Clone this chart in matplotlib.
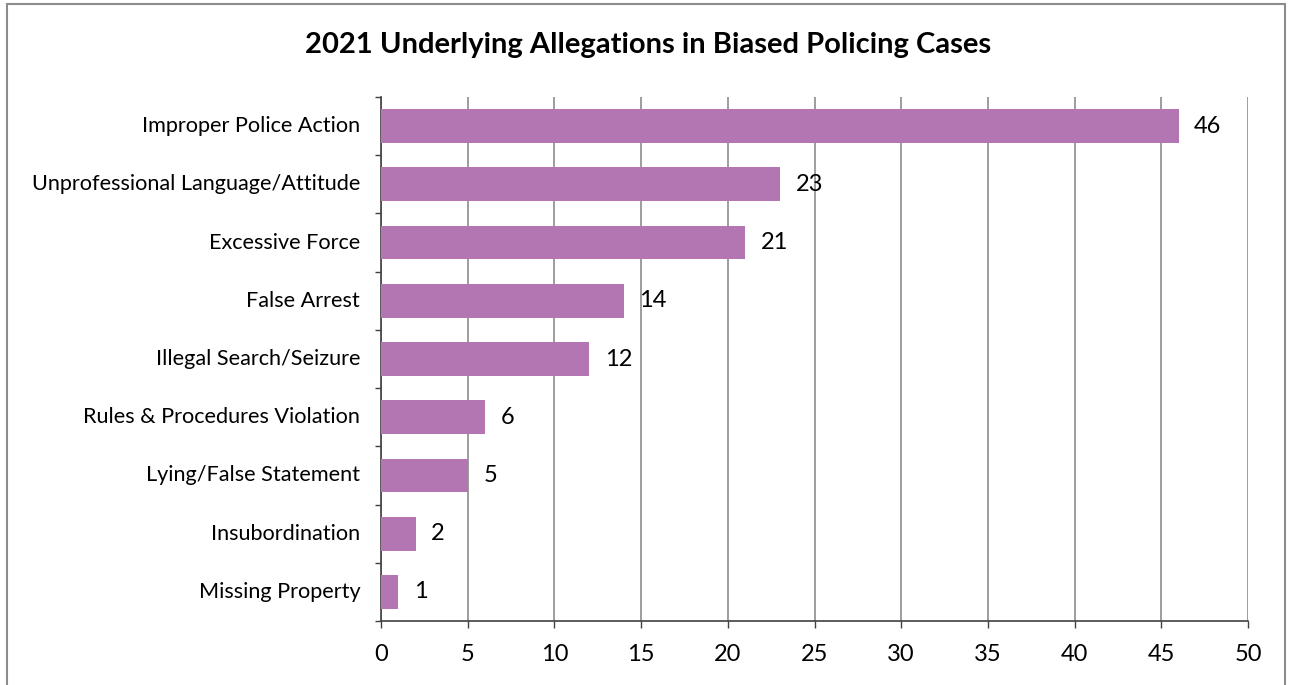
import matplotlib
matplotlib.use("Agg")
import matplotlib.pyplot as plt
import matplotlib.transforms as mtransforms
from matplotlib.patches import Rectangle

categories = ["Improper Police Action", "Unprofessional Language/Attitude", "Excessive Force",
              "False Arrest", "Illegal Search/Seizure", "Rules & Procedures Violation",
              "Lying/False Statement", "Insubordination", "Missing Property"]
values = [46, 23, 21, 14, 12, 6, 5, 2, 1]
xticks = [0, 5, 10, 15, 20, 25, 30, 35, 40, 45, 50]
title = "2021 Underlying Allegations in Biased Policing Cases"

plt.rcParams['font.family'] = ['Lato', 'DejaVu Sans']

W, H = 1291, 685
fig = plt.figure(figsize=(W / 100, H / 100), dpi=100)
ax = fig.add_axes([381 / W, 1 - 621 / H, (1248 - 381) / W, (621 - 97) / H])

ypos = list(range(len(categories)))
ax.barh(ypos, values, height=0.58, color="#B376B3", zorder=3)
for y, v in zip(ypos, values):
    ax.text(v + 0.9, y, str(v), va="center", ha="left", fontsize=17, color="black", zorder=4)

ax.set_xlim(0, 50)
ax.set_ylim(len(categories) - 0.5, -0.5)
ax.set_xticks(xticks)
ax.set_xticklabels([str(t) for t in xticks], fontsize=17)
ax.set_yticks(ypos)
ax.set_yticklabels(categories, fontsize=15.6)
ax.set_yticks([i - 0.5 for i in range(len(categories) + 1)], minor=True)
ax.tick_params(axis="y", which="major", length=0, pad=15)
ax.tick_params(axis="y", which="minor", length=4.5, width=1, color="#404040", direction="out")
ax.tick_params(axis="x", length=5, width=1, color="#404040", pad=11.5)
ax.grid(axis="x", color="#8c8c8c", linewidth=1.2, zorder=1)
for s in ["top", "right"]:
    ax.spines[s].set_visible(False)
for s in ["left", "bottom"]:
    ax.spines[s].set_color("#404040")
    ax.spines[s].set_linewidth(1.2)

shift = mtransforms.ScaledTranslation(0, 2 / 100, fig.dpi_scale_trans)
for lbl in ax.get_yticklabels():
    lbl.set_transform(lbl.get_transform() + shift)

fig.text(648 / W, 1 - 45 / H, title, ha="center", va="center", fontsize=21, fontweight="bold")

fig.patches.append(Rectangle((7 / W, -0.05), (1285 - 7) / W, 1.05 - 4 / H, transform=fig.transFigure,
                             fill=False, edgecolor="#8c8c8c", linewidth=1.5))

fig.savefig("out.png", dpi=100)
